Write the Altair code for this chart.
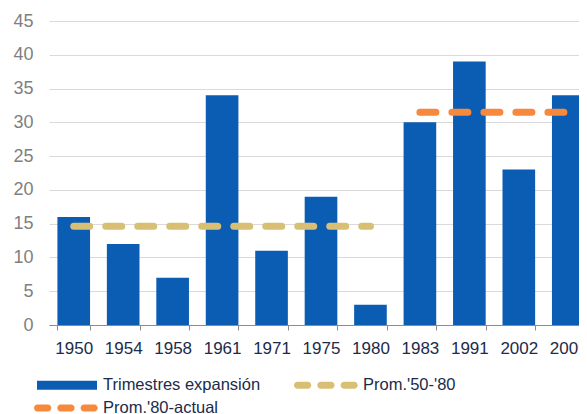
import altair as alt
import pandas as pd

periodos = ["1950", "1954", "1958", "1961", "1971", "1975", "1980", "1983", "1991", "2002", "2009"]
trimestres = [16, 12, 7, 34, 11, 19, 3, 30, 39, 23, 34]

serie_barras = "Trimestres expansión"
promedios = ["Prom.'50-'80", "Prom.'80-actual"]
prom_inicio = ["1950", "1983"]
prom_fin = ["1980", "2009"]
prom_valor = [14.6, 31.5]

y_ticks = [0, 5, 10, 15, 20, 25, 30, 35, 40, 45]
colores = ["#0b5db3", "#d9bf74", "#f6893b"]

bars_df = pd.DataFrame({"periodo": periodos, "valor": trimestres, "serie": serie_barras})
rows = []
for n, a, b, v in zip(promedios, prom_inicio, prom_fin, prom_valor):
    rows.append({"periodo": a, "valor": v, "serie": n})
    rows.append({"periodo": b, "valor": v, "serie": n})
lines_df = pd.DataFrame(rows)

dominio = [serie_barras] + promedios
FONT = "Liberation Sans"


def capsule(x0, x1, r=0.35):
    return (f"M{x0 + r:.3f},{-r}H{x1 - r:.3f}A{r},{r} 0 0 1 {x1 - r:.3f},{r}"
            f"H{x0 + r:.3f}A{r},{r} 0 0 1 {x0 + r:.3f},{-r}Z")


rect_path = "M-3,-0.45H3V0.45H-3Z"
dash_path = capsule(-3.3, -1.57) + capsule(-0.97, 0.76) + capsule(1.36, 3.07)

is_bar = f"datum.value === '{serie_barras}'"
legend = alt.Legend(
    title=None,
    orient="none",
    direction="horizontal",
    legendX=-12,
    legendY=354,
    columns=2,
    columnPadding=33,
    rowPadding=4,
    padding=0,
    symbolSize=400,
    symbolOffset=20,
    labelOffset=26,
    labelFont=FONT,
    labelFontSize=16.5,
    labelColor="#1c2b4a",
    labelLimit=400,
    symbolType={"expr": f"{is_bar} ? '{rect_path}' : '{dash_path}'"},
    symbolFillColor={"expr": f"{is_bar} ? '{colores[0]}' : scale('color', datum.value)"},
    symbolStrokeColor="transparent",
    symbolStrokeWidth=0,
    symbolOpacity=1,
)

color = alt.Color(
    "serie:N",
    scale=alt.Scale(domain=dominio, range=colores),
    legend=legend,
)

x = alt.X(
    "periodo:N",
    sort=periodos,
    scale=alt.Scale(paddingInner=0.34, paddingOuter=0.17),
    axis=alt.Axis(
        title=None,
        labelAngle=0,
        labelFont=FONT,
        labelFontSize=17,
        labelColor="#1c2b4a",
        labelPadding=10,
        tickSize=5,
        tickColor="#8c8c8c",
        domainColor="#8c8c8c",
        tickBand="extent",
        grid=False,
    ),
)
y = alt.Y(
    "valor:Q",
    scale=alt.Scale(domain=[0, 45], nice=False),
    axis=alt.Axis(
        title=None,
        values=y_ticks,
        labelFont=FONT,
        labelFontSize=18,
        labelColor="#7f7f7f",
        labelPadding=16,
        ticks=False,
        domain=False,
        grid=True,
        gridColor="#dadada",
    ),
)

bars = alt.Chart(bars_df).mark_bar().encode(x=x, y=y, color=color)
lines = alt.Chart(lines_df).mark_line(
    strokeWidth=7, strokeDash=[16, 16], strokeCap="round"
).encode(x=x, y=y, color=color, detail="serie:N")

chart = (
    alt.layer(bars, lines)
    .properties(
        width=544,
        height=304,
        padding={"left": 41, "top": 13, "right": -14, "bottom": 95},
        autosize=alt.AutoSizeParams(type="none"),
    )
    .configure_view(stroke=None)
)

chart.save("out.html", embed_options={"renderer": "svg", "actions": False})
